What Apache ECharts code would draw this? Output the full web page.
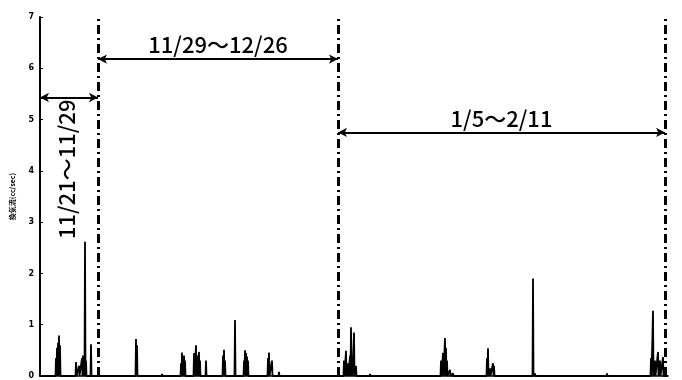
<!DOCTYPE html>
<html>
<head>
<meta charset="utf-8">
<script src="https://cdn.jsdelivr.net/npm/echarts@6/dist/echarts.min.js"></script>
<style>
  html, body { margin: 0; padding: 0; background: #fff; }
  #chart { width: 682px; height: 380px; }
</style>
</head>
<body>
<div id="chart"></div>
<script>
// Record index along the horizontal axis (recording periods laid end to end)
const recordMax = 628;

// Flow peaks per recording period: [record index, flow cc/sec]
const period1Peaks = [
  [16, 0.35], [17, 0.55], [18, 0.65], [19, 0.79], [20, 0.6],
  [36, 0.27], [39, 0.2], [42, 0.35], [43, 0.4], [44, 0.3],
  [45, 2.62], [46, 0.3], [51, 0.62]
];
const period2Peaks = [
  [96, 0.72], [97, 0.6], [122, 0.04], [141, 0.25], [142, 0.46],
  [143, 0.35], [144, 0.4], [145, 0.3], [154, 0.45], [156, 0.6],
  [157, 0.4], [159, 0.47], [160, 0.3], [166, 0.3], [183, 0.4],
  [184, 0.51], [185, 0.3], [195, 1.09], [204, 0.3], [205, 0.5],
  [206, 0.45], [207, 0.38], [208, 0.3], [228, 0.35], [229, 0.46],
  [232, 0.3], [239, 0.08], [248, 0.03]
];
const period3Peaks = [
  [304, 0.3], [306, 0.49], [308, 0.25], [310, 0.4], [311, 0.95],
  [312, 0.3], [314, 0.85], [316, 0.2], [330, 0.04], [338, 0.03],
  [345, 0.03], [353, 0.02], [370, 0.02], [401, 0.3], [403, 0.45],
  [405, 0.74], [406, 0.55], [407, 0.3], [410, 0.12], [413, 0.05],
  [447, 0.35], [448, 0.54], [450, 0.15], [453, 0.25], [454, 0.2],
  [493, 1.9], [495, 0.05], [505, 0.03], [567, 0.05], [611, 0.35],
  [613, 1.27], [615, 0.3], [618, 0.47], [620, 0.3], [623, 0.37]
];

// Period boundaries (record index) and their date ranges
const boundaries = [58, 298, 625];
const periodLabels = ['11/21～11/29', '11/29～12/26', '1/5～2/11'];
const arrowLevels = [5.43, 6.18, 4.75];

// Axis
const yTicks = [0, 1, 2, 3, 4, 5, 6, 7];
const yName = '換気流(cc/sec)';

// Turn each peak into a narrow spike from the baseline
function spikes(peaks) {
  const out = [];
  peaks.forEach(([x, v]) => {
    out.push([x - 0.5, 0], [x, v], [x + 0.5, 0]);
  });
  return out;
}
const flowData = [[0, 0]]
  .concat(spikes(period1Peaks), spikes(period2Peaks), spikes(period3Peaks))
  .concat([[recordMax, 0]]);

const dashDot = { color: '#000', width: 3, type: [9, 4, 2, 4] };
const font = '"Noto Sans CJK JP", "Noto Sans", sans-serif';

const chart = echarts.init(document.getElementById('chart'));
chart.setOption({
  animation: false,
  backgroundColor: '#fff',
  grid: { left: 40, right: 14, top: 17, bottom: 2 },
  xAxis: {
    type: 'value', min: 0, max: recordMax,
    axisLine: { show: true, onZero: false, lineStyle: { color: '#000', width: 1.5 } },
    axisTick: { show: false },
    axisLabel: { show: false },
    splitLine: { show: false }
  },
  yAxis: {
    type: 'value', min: yTicks[0], max: yTicks[yTicks.length - 1], interval: 1,
    name: yName, nameLocation: 'middle', nameGap: 24,
    nameTextStyle: { fontSize: 7, fontWeight: 'bold', color: '#000', fontFamily: font },
    axisLine: { show: true, lineStyle: { color: '#000', width: 2 } },
    axisTick: { show: true, inside: true, length: 3, lineStyle: { color: '#000' } },
    axisLabel: { fontSize: 8, fontWeight: 'bold', color: '#000', margin: 6, fontFamily: 'DejaVu Sans' },
    splitLine: { show: false }
  },
  series: [
    {
      type: 'line',
      data: flowData,
      symbol: 'none',
      lineStyle: { color: '#000', width: 1.8 },
      z: 3,
      markLine: {
        silent: true,
        animation: false,
        symbol: 'none',
        label: { show: false },
        lineStyle: dashDot,
        data: boundaries.map(b => ({ xAxis: b }))
      }
    },
    {
      // Double-headed arrows spanning each period
      type: 'line',
      data: [],
      markLine: {
        silent: true,
        animation: false,
        symbol: ['arrow', 'arrow'],
        symbolSize: [7, 9],
        lineStyle: { color: '#000', width: 1.8, type: 'solid' },
        label: {
          show: true, position: 'insideMiddleTop', distance: 3,
          color: '#000', fontSize: 22, fontWeight: 500, fontFamily: font,
          formatter: p => p.name
        },
        data: [
          [{ coord: [0, arrowLevels[0]], label: { show: false } }, { coord: [boundaries[0], arrowLevels[0]] }],
          [{ name: periodLabels[1], coord: [boundaries[0], arrowLevels[1]] }, { coord: [boundaries[1], arrowLevels[1]] }],
          [{ name: periodLabels[2], coord: [boundaries[1], arrowLevels[2]] }, { coord: [boundaries[2], arrowLevels[2]] }]
        ]
      },
      markPoint: {
        silent: true,
        animation: false,
        symbol: 'circle', symbolSize: 0,
        label: {
          show: true, rotate: 90, position: 'inside',
          color: '#000', fontSize: 22, fontWeight: 500, fontFamily: font,
          formatter: p => p.name
        },
        data: [{ name: periodLabels[0], coord: [27, 4.03] }]
      }
    }
  ]
});
</script>
</body>
</html>
